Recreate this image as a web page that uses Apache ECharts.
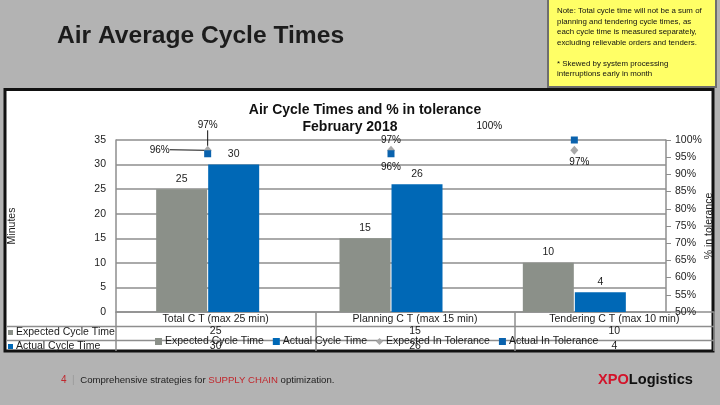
<!DOCTYPE html>
<html>
<head>
<meta charset="utf-8">
<script src="https://cdn.jsdelivr.net/npm/echarts@6/dist/echarts.min.js"></script>
<style>
  html, body { margin: 0; padding: 0; background: #b3b3b3; }
  #main { width: 720px; height: 405px; }
</style>
</head>
<body>
<div id="main"></div>
<script>
// data
const categories = ['Total C T (max 25 min)', 'Planning C T (max 15 min)', 'Tendering C T (max 10 min)'];
const seriesNames = ['Expected Cycle Time', 'Actual Cycle Time', 'Expected In Tolerance', 'Actual In Tolerance'];
const expectedCT = [25, 15, 10];
const actualCT = [30, 26, 4];
const expectedTol = [97, 97, 97];
const actualTol = [96, 96, 100];
const noteLines = [
  'Note: Total cycle time will not be a sum of',
  'planning and tendering cycle times, as',
  'each cycle time is measured separately,',
  'excluding relievable orders and tenders.',
  '',
  '* Skewed by system processing',
  'interruptions early in month'
];

const font = "'Liberation Sans', Arial, sans-serif";
const grayBar = '#8b9089';
const blueBar = '#0068b6';
const gridGray = '#8e8e8e';

// where the % labels were dragged to in the original
const expLabelOff = [[0, -15.5], [0, -0.5], [5, 21.5]];
const actLabelOff = [[-48, 4.5], [0, 21.5], [-85, -5.5]];

const chart = echarts.init(document.getElementById('main'));

const graphic = [
  // chart frame
  { type: 'rect', z: -10, shape: { x: 5, y: 89.5, width: 708, height: 261.5 },
    style: { fill: '#fff', stroke: '#111', lineWidth: 3 } },
  // note box
  { type: 'rect', z: -10, shape: { x: 548, y: -2, width: 168, height: 89 },
    style: { fill: '#ffff66', stroke: '#6e6e6e', lineWidth: 2 } },
  // slide title
  { type: 'text', left: 57, top: 24,
    style: { text: 'Air Average Cycle Times', font: 'bold 24.6px ' + font, fill: '#1c1c1c' } },
  // table lines
  { type: 'line', shape: { x1: 6, y1: 326.5, x2: 714, y2: 326.5 }, style: { stroke: gridGray, lineWidth: 1.5 } },
  { type: 'line', shape: { x1: 6, y1: 340.5, x2: 714, y2: 340.5 }, style: { stroke: gridGray, lineWidth: 1.5 } },
  // row headers
  { type: 'rect', shape: { x: 8, y: 330, width: 5, height: 5 }, style: { fill: grayBar } },
  { type: 'text', left: 16, top: 327, style: { text: seriesNames[0], font: '10.5px ' + font, fill: '#1c1c1c' } },
  { type: 'rect', shape: { x: 8, y: 344, width: 5, height: 5 }, style: { fill: blueBar } },
  { type: 'text', left: 16, top: 341, style: { text: seriesNames[1], font: '10.5px ' + font, fill: '#1c1c1c' } },
  // footer
  { type: 'text', left: 61, top: 375, style: {
      text: '{n|4}{b|  |  }{t|Comprehensive strategies for }{r|SUPPLY CHAIN}{t| optimization.}',
      rich: {
        n: { fontSize: 10, fill: '#c0272d', fontFamily: font },
        b: { fontSize: 10, fill: '#999', fontFamily: font },
        t: { fontSize: 9.6, fill: '#222', fontFamily: font },
        r: { fontSize: 9.6, fill: '#c0272d', fontFamily: font }
      } } },
  { type: 'text', left: 598, top: 372, style: {
      text: '{x|XPO}{l|Logistics}',
      rich: {
        x: { fontSize: 14.6, fontWeight: 'bold', fill: '#d3132a', fontFamily: font },
        l: { fontSize: 14.6, fontWeight: 'bold', fill: '#111', fontFamily: font }
      } } }
];
noteLines.forEach(function (line, i) {
  graphic.push({ type: 'text', left: 557, top: 7 + i * 10.5,
    style: { text: line, font: '7.9px ' + font, fill: '#111' } });
});

const pctLabel = {
  show: true, position: 'top', distance: 0, fontSize: 10, color: '#111', opacity: 1,
  formatter: function (p) { return p.value + '%'; }
};

const option = {
  backgroundColor: '#b3b3b3',
  animation: false,
  textStyle: { fontFamily: font },
  title: [
    { text: 'Air Cycle Times and % in tolerance', left: 360, top: 98, textAlign: 'center',
      textStyle: { fontSize: 14, fontWeight: 'bold', color: '#111' } },
    { text: 'February 2018', left: 345, top: 115, textAlign: 'center',
      textStyle: { fontSize: 14, fontWeight: 'bold', color: '#111' } }
  ],
  legend: {
    left: 150, top: 331, itemWidth: 7, itemHeight: 7, itemGap: 9, selectedMode: false,
    textStyle: { fontSize: 10.5, color: '#1c1c1c', padding: [0, 0, 0, -2] },
    data: [
      { name: seriesNames[0], icon: 'rect' },
      { name: seriesNames[1], icon: 'rect' },
      { name: seriesNames[2], icon: 'diamond' },
      { name: seriesNames[3], icon: 'rect' }
    ]
  },
  grid: [
    { left: 116, right: 54, top: 140, bottom: 93, outerBoundsMode: 'none', containLabel: false },
    { left: 116, right: 6, top: 311, height: 1, outerBoundsMode: 'none', containLabel: false }
  ],
  xAxis: [
    { type: 'category', gridIndex: 0, data: categories,
      axisLine: { show: false }, axisTick: { show: false }, axisLabel: { show: false } },
    { type: 'category', gridIndex: 1, position: 'bottom', data: categories,
      axisLine: { lineStyle: { color: gridGray, width: 1.5 } },
      axisTick: { show: true, length: 39, lineStyle: { color: gridGray, width: 1.5 } },
      axisLabel: { fontSize: 10.5, color: '#1c1c1c', margin: 2 } },
    { type: 'category', gridIndex: 1, position: 'bottom', offset: 14, data: categories,
      axisLine: { show: false }, axisTick: { show: false },
      axisLabel: { fontSize: 10.5, color: '#1c1c1c', margin: 0,
        formatter: function (v, i) { return String(expectedCT[i]); } } },
    { type: 'category', gridIndex: 1, position: 'bottom', offset: 28, data: categories,
      axisLine: { show: false }, axisTick: { show: false },
      axisLabel: { fontSize: 10.5, color: '#1c1c1c', margin: 1,
        formatter: function (v, i) { return String(actualCT[i]); } } }
  ],
  yAxis: [
    { type: 'value', gridIndex: 0, min: 0, max: 35, interval: 5, position: 'left',
      name: 'Minutes', nameLocation: 'middle', nameGap: 98, nameRotate: 90,
      nameTextStyle: { fontSize: 10.5, color: '#1c1c1c' },
      axisLine: { show: true, lineStyle: { color: gridGray, width: 1.5 } },
      axisTick: { show: false },
      axisLabel: { fontSize: 10.5, color: '#1c1c1c', margin: 10 },
      splitLine: { lineStyle: { color: gridGray, width: 1.5 } } },
    { type: 'value', gridIndex: 0, min: 50, max: 100, interval: 5, position: 'right',
      name: '% in tolerance', nameLocation: 'middle', nameGap: 38, nameRotate: 90,
      nameMoveOverlap: false,
      nameTextStyle: { fontSize: 10.5, color: '#1c1c1c' },
      axisLine: { show: true, lineStyle: { color: gridGray, width: 1.5 } },
      axisTick: { show: true, length: 5, lineStyle: { color: gridGray } },
      axisLabel: { fontSize: 10.5, color: '#1c1c1c', margin: 9, formatter: '{value}%' },
      splitLine: { show: false } },
    { type: 'value', gridIndex: 1, show: false }
  ],
  series: [
    { name: seriesNames[0], type: 'bar', xAxisIndex: 0, yAxisIndex: 0, data: expectedCT,
      barWidth: 51, barGap: '2%', itemStyle: { color: grayBar },
      label: { show: true, position: 'top', distance: 5, fontSize: 10.5, color: '#1c1c1c' } },
    { name: seriesNames[1], type: 'bar', xAxisIndex: 0, yAxisIndex: 0, data: actualCT,
      barWidth: 51, barGap: '2%', itemStyle: { color: blueBar },
      label: { show: true, position: 'top', distance: 5, fontSize: 10.5, color: '#1c1c1c' } },
    { name: seriesNames[2], type: 'scatter', xAxisIndex: 0, yAxisIndex: 1, z: 5,
      symbol: 'diamond', symbolSize: [8, 9], itemStyle: { color: '#a8a8a8', opacity: 1 },
      data: expectedTol.map(function (v, i) { return { value: v, labelLine: { show: i === 0 } }; }),
      label: pctLabel,
      labelLine: { show: false, lineStyle: { color: '#111', width: 1, opacity: 1 } },
      labelLayout: function (p) { return { dx: expLabelOff[p.dataIndex][0], dy: expLabelOff[p.dataIndex][1] }; } },
    { name: seriesNames[3], type: 'scatter', xAxisIndex: 0, yAxisIndex: 1, z: 6,
      symbol: 'rect', symbolSize: 7, itemStyle: { color: '#0a62ad', opacity: 1 },
      data: actualTol.map(function (v, i) { return { value: v, labelLine: { show: i === 0 } }; }),
      label: pctLabel,
      labelLine: { show: false, lineStyle: { color: '#111', width: 1, opacity: 1 } },
      labelLayout: function (p) { return { dx: actLabelOff[p.dataIndex][0], dy: actLabelOff[p.dataIndex][1] }; } }
  ],
  graphic: graphic
};

chart.setOption(option);
</script>
</body>
</html>
